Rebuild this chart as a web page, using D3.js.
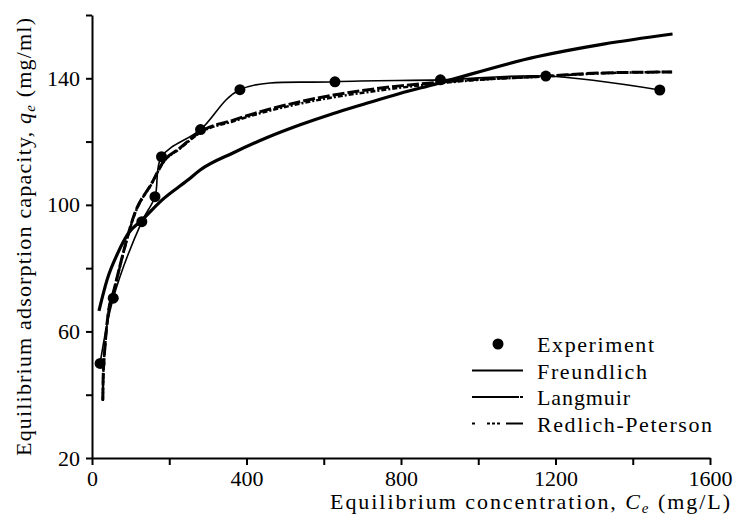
<!DOCTYPE html>
<html>
<head>
<meta charset="utf-8">
<script src="https://cdn.jsdelivr.net/npm/d3@7"></script>
<style>
  body { margin: 0; background: #fff; }
  svg text { font-family: "Liberation Serif", "Noto Serif", "Nimbus Roman", "FreeSerif", "Times New Roman", Times, "DejaVu Serif", serif; fill: #000; }
</style>
</head>
<body>
<div id="chart"></div>
<script>
// experimental points (Ce mg/L, qe mg/ml)
const expCe = [21, 55, 129, 163, 180, 281, 383, 629, 902, 1175, 1470];
const expQe = [49.9, 70.5, 94.7, 102.6, 115.2, 123.8, 136.4, 138.9, 139.5, 140.7, 136.3];

// model curves
const freCe = [18, 39, 67, 93, 132, 181, 249, 280, 365, 452, 539, 625, 711, 797, 884, 1151, 1324, 1503];
const freQe = [66.5, 76.3, 84.8, 90.8, 95.5, 101.5, 107.9, 111.0, 116.4, 121.2, 125.3, 128.9, 132.1, 135.2, 138.0, 146.8, 150.8, 154.0];

const lanCe = [28, 29, 34, 42, 57, 68, 111, 155, 184, 228, 280, 366, 452, 539, 625, 711, 797, 884, 979, 1175, 1323, 1502];
const lanQe = [38.3, 45.7, 55.8, 65.7, 73.1, 78.6, 97.4, 106.9, 113.5, 118.0, 123.1, 126.8, 130.0, 132.6, 134.7, 136.3, 137.6, 138.6, 139.5, 140.7, 141.7, 142.0];

const rpCe = [28, 29, 34, 42, 57, 68, 111, 155, 184, 228, 280, 366, 452, 539, 625, 711, 797, 884, 979, 1175, 1323, 1502];
const rpQe = [38.0, 45.5, 55.6, 65.5, 73.0, 78.4, 97.2, 106.8, 113.3, 117.8, 122.8, 126.4, 129.5, 132.0, 134.0, 135.6, 137.0, 138.2, 139.3, 140.6, 141.6, 142.0];

const xTicks = [0, 400, 800, 1200, 1600];
const yTicks = [20, 60, 100, 140];
const legendNames = ["Experiment", "Freundlich", "Langmuir", "Redlich-Peterson"];

const W = 739, H = 529;
const svg = d3.select("#chart").append("svg")
  .attr("width", W)
  .attr("height", H);

const x = d3.scaleLinear().domain([0, 1600]).range([92, 710]);
const y = d3.scaleLinear().domain([20, 160]).range([458, 15]);

const fs = 22;

// axes
const xAxis = svg.append("g")
  .attr("transform", `translate(0,${y(20)})`)
  .call(d3.axisBottom(x).tickValues(d3.range(0, 1601, 200)).tickSize(7).tickSizeOuter(0)
    .tickFormat(d => xTicks.includes(d) ? d : ""));
const yAxis = svg.append("g")
  .attr("transform", `translate(${x(0)},0)`)
  .call(d3.axisLeft(y).tickValues(d3.range(20, 161, 20)).tickSize(6).tickSizeOuter(0)
    .tickFormat(d => yTicks.includes(d) ? d : ""));

[xAxis, yAxis].forEach(a => {
  a.attr("font-family", null).attr("font-size", null);
  a.select(".domain").attr("stroke", "#000").attr("stroke-width", 2);
  a.selectAll(".tick line").attr("stroke", "#000").attr("stroke-width", 2);
  a.selectAll(".tick text")
    .style("font-size", fs + "px")
    .attr("fill", "#000");
});
xAxis.selectAll(".tick text").attr("dy", "0.71em").attr("y", 12);
yAxis.selectAll(".tick text").attr("x", -12);

// axis titles
const xt = svg.append("text")
  .attr("x", 530).attr("y", 509)
  .attr("text-anchor", "middle")
  .attr("textLength", 400).attr("lengthAdjust", "spacing")
  .style("font-size", fs + "px");
xt.append("tspan").text("Equilibrium concentration, ");
xt.append("tspan").style("font-style", "italic").text("C");
xt.append("tspan").style("font-style", "italic").style("font-size", "15px").attr("dy", 4).text("e");
xt.append("tspan").attr("dy", -4).text(" (mg/L)");

const yt = svg.append("text")
  .attr("transform", "translate(31,237) rotate(-90)")
  .attr("text-anchor", "middle")
  .attr("textLength", 438).attr("lengthAdjust", "spacing")
  .style("font-size", fs + "px");
yt.append("tspan").text("Equilibrium adsorption capacity, ");
yt.append("tspan").style("font-style", "italic").text("q");
yt.append("tspan").style("font-style", "italic").style("font-size", "15px").attr("dy", 4).text("e");
yt.append("tspan").attr("dy", -4).text(" (mg/ml)");

// curves
const line = d3.line()
  .x(d => x(d[0]))
  .y(d => y(d[1]))
  .curve(d3.curveMonotoneX);

const zip = (a, b) => a.map((v, i) => [v, b[i]]);

svg.append("path")
  .attr("d", line(zip(freCe, freQe)))
  .attr("fill", "none").attr("stroke", "#000").attr("stroke-width", 3.2);

svg.append("path")
  .attr("d", line(zip(lanCe, lanQe)))
  .attr("fill", "none").attr("stroke", "#000").attr("stroke-width", 3)
  .attr("stroke-dasharray", "12,3");

svg.append("path")
  .attr("d", line(zip(rpCe, rpQe)))
  .attr("fill", "none").attr("stroke", "#000").attr("stroke-width", 2.5)
  .attr("stroke-dasharray", "5,2,2,2");

// thin smoothed line through the experiment points
svg.append("path")
  .attr("d", d3.line().x(d => x(d[0])).y(d => y(d[1])).curve(d3.curveCatmullRom)(zip(expCe, expQe)))
  .attr("fill", "none").attr("stroke", "#000").attr("stroke-width", 1.6);

svg.selectAll(".pt")
  .data(zip(expCe, expQe))
  .enter().append("circle")
  .attr("class", "pt")
  .attr("cx", d => x(d[0]))
  .attr("cy", d => y(d[1]))
  .attr("r", 5.5)
  .attr("fill", "#000");

// legend
const lg = svg.append("g").attr("transform", "translate(472,344)");
const rowH = 26.5;
const textW = [117, 110, 93, 175];
legendNames.forEach((name, i) => {
  const cy = i * rowH;
  if (i === 0) {
    lg.append("circle").attr("cx", 26).attr("cy", cy).attr("r", 5.5).attr("fill", "#000");
  } else {
    const l = lg.append("line")
      .attr("x1", 0).attr("x2", 51)
      .attr("y1", cy).attr("y2", cy)
      .attr("stroke", "#000").attr("stroke-width", 2.2);
    if (i === 2) l.attr("stroke-dasharray", "47,1,3");
    if (i === 3) l.attr("stroke-dasharray", "3,12,3,2,3,2,3,6,18");
  }
  lg.append("text")
    .attr("x", 65).attr("y", cy + 8)
    .attr("textLength", textW[i]).attr("lengthAdjust", "spacing")
    .style("font-size", fs + "px")
    .text(name);
});
</script>
</body>
</html>
